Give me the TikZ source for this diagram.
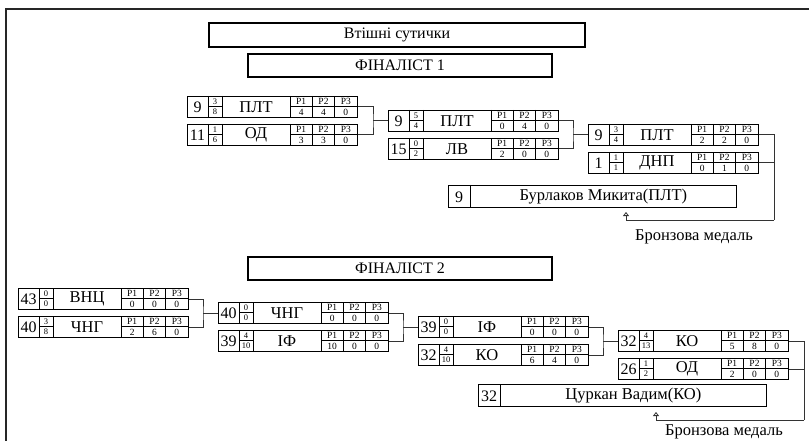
\documentclass[tikz,border=0pt]{standalone}
\usepackage{fontspec}
\setmainfont{Liberation Serif}
\usetikzlibrary{calc}
\usetikzlibrary{arrows.meta}

\tikzset{
	headbox/.style={draw, line width=2pt, inner sep=0pt, font=\fontsize{16}{16}\selectfont},
	boutbox/.style={draw, line width=0.8pt, minimum width=170pt, minimum height=21pt, inner sep=0pt, anchor=north west},
	champbox/.style={draw, line width=0.8pt, minimum width=288pt, minimum height=22pt, inner sep=0pt, anchor=north west},
	cell/.style={line width=0.8pt},
	link/.style={line width=0.8pt, color=black!80},
	seedtxt/.style={inner sep=0pt, font=\fontsize{16}{16}\selectfont},
	fractxt/.style={inner sep=0pt, font=\fontsize{8.5}{8.5}\selectfont},
	teamtxt/.style={inner sep=0pt, font=\fontsize{16.5}{16.5}\selectfont},
	smalltxt/.style={inner sep=0pt, font=\fontsize{9.5}{9.5}\selectfont},
	champtxt/.style={inner sep=0pt, font=\fontsize{16.5}{16.5}\selectfont},
	medal/.style={inner sep=0pt, font=\fontsize{16.5}{16.5}\selectfont}
}

% name, top left, seed, fraction, team, points
\newcommand{\bout}[9]{%
	\node[boutbox] (#1) at (#2) {};
	\begin{scope}[shift={(#1.north west)}]
		\draw[cell] (21,0) -- (21,21) (35,0) -- (35,21) (103,0) -- (103,21)
			(125.3,0) -- (125.3,21) (147.7,0) -- (147.7,21)
			(21,10.5) -- (35,10.5) (103,10.5) -- (170,10.5);
		\node[seedtxt] (#1-seed) at (10.5,11) {#3};
		\node[fractxt] (#1-num) at (28,5.3) {#4};
		\node[fractxt] (#1-den) at (28,16) {#5};
		\node[teamtxt] (#1-team) at (69,10.8) {#6};
		\node[smalltxt] (#1-h1) at (114.2,5.3) {P1};
		\node[smalltxt] (#1-h2) at (136.5,5.3) {P2};
		\node[smalltxt] (#1-h3) at (158.8,5.3) {P3};
		\node[smalltxt] (#1-p1) at (114.2,16) {#7};
		\node[smalltxt] (#1-p2) at (136.5,16) {#8};
		\node[smalltxt] (#1-p3) at (158.8,16) {#9};
	\end{scope}%
}

\newcommand{\champ}[4]{%
	\node[champbox] (#1) at (#2) {};
	\draw[cell] ($(#1.north west)+(22,0)$) -- ($(#1.south west)+(22,0)$);
	\node[seedtxt] (#1-seed) at ($(#1.west)+(11,0.5)$) {#3};
	\node[champtxt] (#1-name) at ($(#1.center)+(11,0)$) {#4};%
}

\begin{document}
\begin{tikzpicture}[x=1pt, y=-1pt]
	\useasboundingbox (0,0) rectangle (809,441);
	\draw[line width=1.5pt, color=black!85] (6,441) -- (6,9) -- (809,9);

	\node[headbox, minimum width=376pt, minimum height=24pt] (title) at (397,35) {Втішні сутички};
	\node[headbox, minimum width=304pt, minimum height=23pt] (fin1) at (400,65.5) {ФІНАЛІСТ 1};
	\node[headbox, minimum width=304pt, minimum height=23pt] (fin2) at (400,268.5) {ФІНАЛІСТ 2};

	% finalist 1
	\bout{f1r1t}{187,96}{9}{3}{8}{ПЛТ}{4}{4}{0}
	\bout{f1r1b}{187,124}{11}{1}{6}{ОД}{3}{3}{0}
	\bout{f1r2t}{388,110}{9}{5}{4}{ПЛТ}{0}{4}{0}
	\bout{f1r2b}{388,138}{15}{0}{2}{ЛВ}{2}{0}{0}
	\bout{f1r3t}{588,124}{9}{3}{4}{ПЛТ}{2}{2}{0}
	\bout{f1r3b}{588,152}{1}{1}{1}{ДНП}{0}{1}{0}
	\champ{f1win}{448,185}{9}{Бурлаков Микита(ПЛТ)}

	\coordinate (f1j1) at ($(f1r2t.west)+(-15,0)$);
	\coordinate (f1j2) at ($(f1r3t.west)+(-15,0)$);
	\draw[link] (f1r1t.east) -| (f1j1) |- (f1r1b.east);
	\draw[link] (f1j1) -- (f1r2t.west);
	\draw[link] (f1r2t.east) -| (f1j2) |- (f1r2b.east);
	\draw[link] (f1j2) -- (f1r3t.west);

	\coordinate (f1turn) at (774,220);
	\coordinate (f1tip) at (626,212);
	\draw[link] (f1r3t.east) -| (f1turn);
	\draw[link] (f1r3b.east) -| (f1turn);
	\draw[link, -{Triangle[open, width=6pt, length=4pt]}] (f1turn) -| (f1tip);
	\node[medal] (f1medal) at (694,237) {Бронзова медаль};

	% finalist 2
	\bout{f2r1t}{18,288}{43}{0}{0}{ВНЦ}{0}{0}{0}
	\bout{f2r1b}{18,316}{40}{3}{8}{ЧНГ}{2}{6}{0}
	\bout{f2r2t}{218,302}{40}{0}{0}{ЧНГ}{0}{0}{0}
	\bout{f2r2b}{218,330}{39}{4}{10}{ІФ}{10}{0}{0}
	\bout{f2r3t}{418,316}{39}{0}{0}{ІФ}{0}{0}{0}
	\bout{f2r3b}{418,344}{32}{4}{10}{КО}{6}{4}{0}
	\bout{f2r4t}{618,330}{32}{4}{13}{КО}{5}{8}{0}
	\bout{f2r4b}{618,358}{26}{1}{2}{ОД}{2}{0}{0}
	\champ{f2win}{478,384}{32}{Цуркан Вадим(КО)}

	\coordinate (f2j1) at ($(f2r2t.west)+(-15,0)$);
	\coordinate (f2j2) at ($(f2r3t.west)+(-15,0)$);
	\coordinate (f2j3) at ($(f2r4t.west)+(-15,0)$);
	\draw[link] (f2r1t.east) -| (f2j1) |- (f2r1b.east);
	\draw[link] (f2j1) -- (f2r2t.west);
	\draw[link] (f2r2t.east) -| (f2j2) |- (f2r2b.east);
	\draw[link] (f2j2) -- (f2r3t.west);
	\draw[link] (f2r3t.east) -| (f2j3) |- (f2r3b.east);
	\draw[link] (f2j3) -- (f2r4t.west);

	\coordinate (f2turn) at (804,420);
	\coordinate (f2tip) at (656,412);
	\draw[link] (f2r4t.east) -| (f2turn);
	\draw[link] (f2r4b.east) -| (f2turn);
	\draw[link, -{Triangle[open, width=6pt, length=4pt]}] (f2turn) -| (f2tip);
	\node[medal] (f2medal) at (724,432) {Бронзова медаль};
\end{tikzpicture}
\end{document}
